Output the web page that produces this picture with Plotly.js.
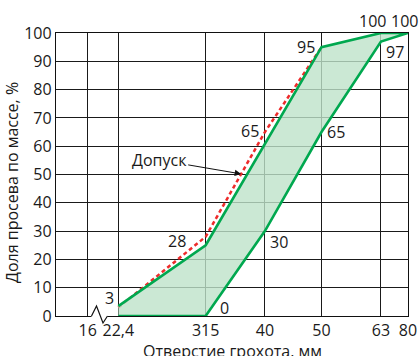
<!DOCTYPE html>
<html>
<head>
<meta charset="utf-8">
<script src="https://cdn.plot.ly/plotly-3.0.1.min.js"></script>
<style>html,body{margin:0;padding:0;background:#fff;}#chart{width:419px;height:356px;}</style>
</head>
<body>
<div id="chart"></div>
<script>
// ---- data ----
const sieveSizes = [16, 22.4, 31.5, 40, 50, 63, 80];
const tickLabels = ["16", "22,4", "315", "40", "50", "63", "80"];
// upper boundary of the green zone
const upperSizes = [22.4, 31.5, 50, 63, 80];
const upperValues = [3.5, 25, 95, 100, 100];
// lower boundary of the green zone
const lowerSizes = [22.4, 31.5, 40, 50, 63, 80];
const lowerValues = [0, 0, 30, 65, 97, 100];
// red dashed tolerance line
const tolSizes = [22.4, 31.5, 40, 50];
const tolValues = [3, 28, 65, 95];
const yTicks = [0, 10, 20, 30, 40, 50, 60, 70, 80, 90, 100];
const xTitle = 'Отверстие грохота, мм';
const yTitle = 'Доля просева по массе, %';

// ---- axis scale: non-uniform positions of the sieve sizes on the x axis ----
const axisPos = [9.01, 17.71, 42.51, 59.34, 75.43, 92.32, 100];
function xp(size) {
  const i = sieveSizes.indexOf(size);
  return axisPos[i];
}

const green = '#00a84f';
const red = '#ee2b2b';
const font = "'Open Sans', 'DejaVu Sans', sans-serif";
const fs = 16;
const tc = '#1a1a1a';

// closed polygon: upper boundary then lower boundary reversed
const polyX = upperSizes.map(xp).concat(lowerSizes.slice().reverse().map(xp));
const polyY = upperValues.concat(lowerValues.slice().reverse());

const traces = [
  {
    x: tolSizes.map(xp), y: tolValues, type: 'scatter', mode: 'lines',
    line: {color: red, width: 2.5, dash: '4px,3px'}, hoverinfo: 'skip'
  },
  {
    x: polyX, y: polyY, type: 'scatter', mode: 'lines', fill: 'toself',
    fillcolor: 'rgba(190,226,201,0.8)',
    line: {color: green, width: 2.6}, hoverinfo: 'skip'
  }
];

// value labels
function lab(size, val, text, xanchor, yanchor, xshift, yshift) {
  return {x: xp(size), y: val, text: text, showarrow: false, xanchor: xanchor, yanchor: yanchor,
    xshift: xshift, yshift: yshift, font: {family: font, size: fs, color: tc}};
}
// arrow tip on the tolerance line, 60% between 31.5 and 40
const tipFrac = 0.6;
const tipX = xp(tolSizes[1]) + tipFrac * (xp(tolSizes[2]) - xp(tolSizes[1]));
const tipY = tolValues[1] + tipFrac * (tolValues[2] - tolValues[1]);

// paper-coordinate helpers (plot area: left 56, top 33, 352 x 283 px)
const W = 352, H = 283;
function px(x) { return (x - 56) / W; }
function py(y) { return (316 - y) / H; }

const annotations = [
  lab(22.4, tolValues[0], '3', 'right', 'middle', -2, 10),
  lab(31.5, tolValues[1], '28', 'right', 'middle', -18, -4),
  lab(40, tolValues[2], '65', 'right', 'middle', -4, 1),
  lab(50, tolValues[3], '95', 'right', 'middle', -5, 0),
  lab(63, upperValues[3], '100', 'center', 'middle', -8, 12),
  lab(80, upperValues[4], '100', 'center', 'middle', -4, 12),
  lab(63, lowerValues[4], '97', 'left', 'middle', 3, -11),
  lab(50, lowerValues[3], '65', 'left', 'middle', 3, 0),
  lab(40, lowerValues[2], '30', 'left', 'middle', 3, -11),
  lab(31.5, lowerValues[1], '0', 'left', 'middle', 12, 8),
  {x: tipX, y: tipY, text: 'Допуск', showarrow: true, ax: -82, ay: -14,
    arrowhead: 2, arrowsize: 1.3, arrowwidth: 1, arrowcolor: '#111', standoff: 0,
    font: {family: font, size: fs, color: tc}},
  {xref: 'paper', yref: 'paper', x: px(232), y: py(351), text: xTitle, showarrow: false,
    xanchor: 'center', yanchor: 'middle', font: {family: font, size: fs, color: tc}},
  {xref: 'paper', yref: 'paper', x: px(12), y: py(183), text: yTitle, showarrow: false, textangle: -90,
    xanchor: 'center', yanchor: 'middle', font: {family: font, size: fs, color: tc}}
];

// axis break on the x axis between 16 and 22,4
const shapes = [
  {type: 'line', xref: 'paper', yref: 'paper', x0: px(91.5), x1: px(107.5), y0: 0, y1: 0,
    line: {color: '#ffffff', width: 4}, layer: 'above'},
  {type: 'path', xref: 'paper', yref: 'paper', layer: 'above',
    path: 'M ' + px(91.5) + ' ' + py(316) + ' L ' + px(96.5) + ' ' + py(306) +
          ' L ' + px(103) + ' ' + py(323) + ' L ' + px(107.5) + ' ' + py(316),
    line: {color: '#111', width: 1.2}}
];

const layout = {
  width: 419, height: 356,
  margin: {l: 56, r: 11, t: 33, b: 40},
  paper_bgcolor: '#fff', plot_bgcolor: '#fff',
  showlegend: false,
  font: {family: font, size: fs, color: tc},
  xaxis: {
    range: [0, 100], tickmode: 'array', tickvals: sieveSizes.map(xp), ticktext: tickLabels,
    showgrid: true, gridcolor: '#1a1a1a', gridwidth: 1, zeroline: false,
    showline: true, linecolor: '#111', linewidth: 1.2, mirror: true,
    ticks: '', layer: 'below traces',
    tickfont: {family: font, size: fs, color: tc},
    automargin: false,
    fixedrange: true
  },
  yaxis: {
    range: [0, 100], tickmode: 'array', tickvals: yTicks,
    showgrid: true, gridcolor: '#1a1a1a', gridwidth: 1, zeroline: false,
    showline: true, linecolor: '#111', linewidth: 1.2, mirror: true,
    ticks: '', layer: 'below traces',
    tickfont: {family: font, size: fs, color: tc},
    automargin: false,
    fixedrange: true
  },
  annotations: annotations,
  shapes: shapes
};

Plotly.newPlot('chart', traces, layout, {displayModeBar: false, staticPlot: true});
</script>
</body>
</html>
